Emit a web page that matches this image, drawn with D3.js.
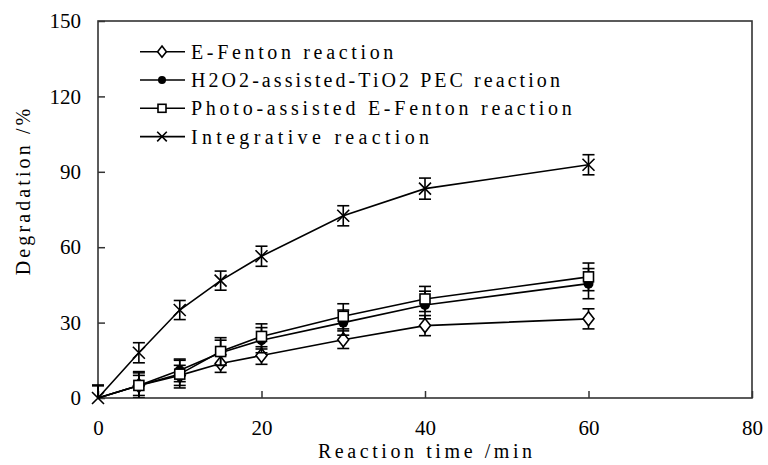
<!DOCTYPE html>
<html>
<head>
<meta charset="utf-8">
<script src="https://cdn.jsdelivr.net/npm/d3@7"></script>
<style>
  body { margin: 0; background: #fff; }
  svg text { fill: #000; }
  .tick-label { font-family: "Liberation Serif", "DejaVu Serif", serif; font-size: 21px; }
  .mono { font-family: "Liberation Serif", "DejaVu Serif", serif; font-size: 20px; }
</style>
</head>
<body>
<div id="container"></div>
<script>
const width = 768, height = 465;
const margin = {top: 21, right: 16, bottom: 67, left: 98};
const charW = 11.9; // the source font is monospaced, so every label gets a fixed width per char

// data
const times = [0, 5, 10, 15, 20, 30, 40, 60];
const seriesNames = ["E-Fenton reaction", "H2O2-assisted-TiO2 PEC reaction",
                     "Photo-assisted E-Fenton reaction", "Integrative reaction"];
const eFenton      = [0, 5, 9, 13.7, 16.9, 23.2, 28.8, 31.5];
const eFentonErr   = [5, 4, 4, 3.5, 3.5, 3.5, 4, 4];
const pec          = [0, 5, 11, 18, 23, 30, 37, 45.5];
const pecErr       = [5, 5, 4.5, 5, 5, 5, 5.5, 6];
const photo        = [0, 5, 9.5, 18.5, 24.5, 32.5, 39.4, 48.2];
const photoErr     = [5, 5.5, 5.5, 5.5, 5, 5, 5, 5.5];
const integrative  = [0, 18, 35, 46.7, 56.4, 72.5, 83.3, 92.8];
const integrErr    = [5, 4, 3.8, 3.8, 4, 4, 4.2, 4];
const xTicks = [0, 20, 40, 60, 80];
const yTicks = [0, 30, 60, 90, 120, 150];

const series = [
  {name: seriesNames[0], vals: eFenton, err: eFentonErr, marker: "diamond"},
  {name: seriesNames[1], vals: pec, err: pecErr, marker: "circle"},
  {name: seriesNames[2], vals: photo, err: photoErr, marker: "square"},
  {name: seriesNames[3], vals: integrative, err: integrErr, marker: "cross"}
];

const w = width - margin.left - margin.right;
const h = height - margin.top - margin.bottom;

const x = d3.scaleLinear().domain([0, 80]).range([0, w]);
const y = d3.scaleLinear().domain([0, 150]).range([h, 0]);

const svg = d3.select("#container").append("svg")
    .attr("width", width).attr("height", height);

const g = svg.append("g").attr("transform", "translate(" + [margin.left, margin.top] + ")");

g.append("defs").append("clipPath").attr("id", "plotclip")
  .append("rect").attr("x", -10).attr("y", 0).attr("width", w + 20).attr("height", h);

// frame
g.append("rect").attr("width", w).attr("height", h)
  .attr("fill", "none").attr("stroke", "#333").attr("stroke-width", 1.6);

// axes, ticks inward
const yAxis = d3.axisLeft(y).tickValues(yTicks).tickSize(-7).tickPadding(17);
const xAxis = d3.axisBottom(x).tickValues(xTicks).tickSize(-7).tickPadding(22);

const gy = g.append("g").call(yAxis);
const gx = g.append("g").attr("transform", "translate(0," + h + ")").call(xAxis);
[gx, gy].forEach(a => {
  a.select(".domain").remove();
  a.selectAll("line").attr("stroke", "#333").attr("stroke-width", 1.5);
  a.selectAll("text").attr("class", "tick-label").attr("font-family", null).attr("font-size", null);
});

function monoText(sel, str) {
  return sel.attr("class", "mono")
    .attr("textLength", str.length * charW)
    .attr("lengthAdjust", "spacing")
    .text(str);
}

// axis titles
monoText(g.append("text"), "Reaction time /min")
  .attr("x", w / 2).attr("y", h + 60)
  .attr("text-anchor", "middle");

monoText(g.append("text"), "Degradation /%")
  .attr("transform", "translate(" + [-68, 171] + ") rotate(-90)")
  .attr("text-anchor", "middle");

function drawMarker(sel, type, k) {
  k = k || 1;
  if (type === "diamond") {
    sel.append("path").attr("d", `M0,${-7 * k}L${5.5 * k},0L0,${7 * k}L${-5.5 * k},0Z`)
      .attr("fill", "#fff").attr("stroke", "#000").attr("stroke-width", 1.6);
  } else if (type === "circle") {
    sel.append("circle").attr("r", 5 * k).attr("fill", "#000");
  } else if (type === "square") {
    const s = 5 * k;
    sel.append("rect").attr("x", -s).attr("y", -s).attr("width", 2 * s).attr("height", 2 * s)
      .attr("fill", "#fff").attr("stroke", "#000").attr("stroke-width", 1.6);
  } else {
    const s = 6 * k;
    sel.append("path").attr("d", `M${-s},${-s}L${s},${s}M${-s},${s}L${s},${-s}`)
      .attr("fill", "none").attr("stroke", "#000").attr("stroke-width", 1.6);
  }
}

const line = d3.line().x((d, i) => x(times[i])).y(d => y(d));

series.forEach(s => {
  const sg = g.append("g");
  // error bars
  const eb = sg.append("g").attr("clip-path", "url(#plotclip)");
  s.vals.forEach((v, i) => {
    const cx = x(times[i]);
    const top = y(v + s.err[i]), bot = y(v - s.err[i]);
    eb.append("line").attr("x1", cx).attr("x2", cx).attr("y1", top).attr("y2", bot)
      .attr("stroke", "#000").attr("stroke-width", 1.6);
    [top, bot].forEach(yy => eb.append("line")
      .attr("x1", cx - 6).attr("x2", cx + 6).attr("y1", yy).attr("y2", yy)
      .attr("stroke", "#000").attr("stroke-width", 1.6));
  });
  sg.append("path").datum(s.vals).attr("d", line)
    .attr("fill", "none").attr("stroke", "#000").attr("stroke-width", 1.6);
  s.vals.forEach((v, i) => {
    // at the origin only the cross is visible in the source
    if (times[i] === 0 && s.marker !== "cross") return;
    const m = sg.append("g").attr("transform", "translate(" + [x(times[i]), y(v)] + ")");
    drawMarker(m, s.marker);
  });
});

// legend
const legend = g.append("g").attr("transform", "translate(" + [42, 30.7] + ")");
series.forEach((s, i) => {
  const row = legend.append("g").attr("transform", "translate(0," + (i * 28.3) + ")");
  row.append("line").attr("x1", 0).attr("x2", 45).attr("y1", 0).attr("y2", 0)
    .attr("stroke", "#000").attr("stroke-width", 1.6);
  const m = row.append("g").attr("transform", "translate(22,0)");
  drawMarker(m, s.marker, 0.8);
  monoText(row.append("text"), s.name)
    .attr("x", 51).attr("y", 0).attr("dy", "0.35em");
});
</script>
</body>
</html>
